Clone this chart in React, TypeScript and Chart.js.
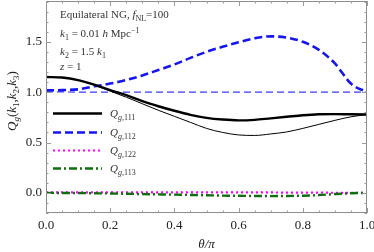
import React, { useEffect, useRef } from "react";
import { Chart, registerables } from "chart.js";

Chart.register(...registerables);

const theta = [0, 0.05, 0.1, 0.15, 0.2, 0.25, 0.3, 0.35, 0.4, 0.45, 0.5, 0.55, 0.6, 0.65, 0.7, 0.75, 0.8, 0.85, 0.9, 0.95, 1.0];

const q111Thick = [1.15, 1.145, 1.12, 1.075, 1.02, 0.97, 0.91, 0.86, 0.815, 0.775, 0.745, 0.728, 0.72, 0.725, 0.74, 0.755, 0.77, 0.78, 0.782, 0.78, 0.778];
const q111Thin = [1.15, 1.145, 1.12, 1.07, 1.01, 0.95, 0.885, 0.82, 0.76, 0.70, 0.64, 0.6, 0.575, 0.57, 0.585, 0.605, 0.64, 0.68, 0.72, 0.755, 0.778];
const q112Thick = [1.018, 1.02, 1.028, 1.058, 1.085, 1.12, 1.165, 1.22, 1.275, 1.34, 1.4, 1.45, 1.495, 1.535, 1.554, 1.542, 1.5, 1.42, 1.285, 1.085, 1.0];
const q112Thin = [1.004, 1.002, 1.001, 1.0, 1.0, 1.0, 1.0, 1.0, 1.0, 1.0, 1.0, 1.0, 1.0, 1.0, 1.0, 1.0, 1.0, 1.0, 1.0, 1.0, 1.0];
const q122 = [0.005, 0.005, 0.005, 0.005, 0.004, 0.004, 0.004, 0.004, 0.004, 0.004, 0.004, 0.004, 0.004, 0.004, 0.004, 0.003, 0.003, 0.002, 0.001, 0.0, 0.0];
const q113 = [0.0, -0.001, -0.002, -0.004, -0.006, -0.009, -0.012, -0.015, -0.018, -0.021, -0.024, -0.027, -0.029, -0.031, -0.032, -0.031, -0.028, -0.022, -0.012, -0.004, 0.0];

const xMajorTicks = [0, 0.2, 0.4, 0.6, 0.8, 1.0];
const xTickLabels = ["0.0", "0.2", "0.4", "0.6", "0.8", "1.0"];
const yMajorTicks = [0, 0.5, 1.0, 1.5];
const yTickLabels = ["0.0", "0.5", "1.0", "1.5"];

const SERIF = "'Liberation Serif', 'DejaVu Serif', serif";

type Run = { t: string; i?: boolean; s?: "sub" | "sup" };

function runFont(r: Run, size: number) {
  const sz = r.s ? Math.round(size * 0.7) : size;
  return `${r.i ? "italic " : ""}${sz}px ${SERIF}`;
}

function measureRuns(ctx: CanvasRenderingContext2D, runs: Run[], size: number) {
  let w = 0;
  for (const r of runs) {
    ctx.font = runFont(r, size);
    w += ctx.measureText(r.t).width;
  }
  return w;
}

function drawRuns(ctx: CanvasRenderingContext2D, runs: Run[], x: number, y: number, size: number, color: string) {
  ctx.fillStyle = color;
  ctx.textBaseline = "alphabetic";
  ctx.textAlign = "left";
  let cx = x;
  for (const r of runs) {
    ctx.font = runFont(r, size);
    const dy = r.s === "sub" ? size * 0.25 : r.s === "sup" ? -size * 0.38 : 0;
    ctx.fillText(r.t, cx, y + dy);
    cx += ctx.measureText(r.t).width;
  }
  return cx - x;
}

const legendItems = [
  { label: "111", ds: 0 },
  { label: "112", ds: 2 },
  { label: "122", ds: 5 },
  { label: "113", ds: 4 },
];

const overlayPlugin = {
  id: "overlay",
  afterDraw(chart: any) {
    const ctx: CanvasRenderingContext2D = chart.ctx;
    const { left, right, top, bottom } = chart.chartArea;
    const xs = chart.scales.x;
    const ys = chart.scales.y;
    ctx.save();
    // frame
    ctx.strokeStyle = "#8c8c8c";
    ctx.lineWidth = 1;
    ctx.setLineDash([]);
    ctx.strokeRect(Math.round(left) + 0.5, Math.round(top) + 0.5, Math.round(right - left) - 1, Math.round(bottom - top) - 1);
    // x ticks
    ctx.strokeStyle = "#9a9a9a";
    for (let k = 0; k <= 20; k++) {
      const v = k * 0.05;
      const px = Math.round(xs.getPixelForValue(v)) + 0.5;
      const len = k % 4 === 0 ? 5 : 2.5;
      ctx.beginPath();
      ctx.moveTo(px, bottom);
      ctx.lineTo(px, bottom - len);
      ctx.moveTo(px, top);
      ctx.lineTo(px, top + len);
      ctx.stroke();
    }
    for (let k = -2; k <= 19; k++) {
      const v = k * 0.1;
      const py = Math.round(ys.getPixelForValue(v)) + 0.5;
      const len = k % 5 === 0 ? 5 : 2.5;
      ctx.beginPath();
      ctx.moveTo(left, py);
      ctx.lineTo(left + len, py);
      ctx.moveTo(right, py);
      ctx.lineTo(right - len, py);
      ctx.stroke();
    }
    // tick labels
    ctx.fillStyle = "#222";
    ctx.font = `13px ${SERIF}`;
    ctx.textAlign = "center";
    ctx.textBaseline = "alphabetic";
    xMajorTicks.forEach((v, i) => {
      ctx.fillText(xTickLabels[i], xs.getPixelForValue(v), bottom + 16);
    });
    ctx.textAlign = "right";
    ctx.textBaseline = "middle";
    yMajorTicks.forEach((v, i) => {
      ctx.fillText(yTickLabels[i], left - 4, ys.getPixelForValue(v));
    });
    // x title
    const xt: Run[] = [{ t: "θ/π", i: true }];
    const xw = measureRuns(ctx, xt, 13);
    drawRuns(ctx, xt, (left + right) / 2 - xw / 2, 248, 13, "#222");
    // y title
    const yt: Run[] = [
      { t: "Q", i: true }, { t: "g", i: true, s: "sub" }, { t: "(" },
      { t: "k", i: true }, { t: "1", s: "sub" }, { t: "," },
      { t: "k", i: true }, { t: "2", s: "sub" }, { t: "," },
      { t: "k", i: true }, { t: "3", s: "sub" }, { t: ")" },
    ];
    const yw = measureRuns(ctx, yt, 13);
    ctx.save();
    ctx.translate(16, 101);
    ctx.rotate(-Math.PI / 2);
    drawRuns(ctx, yt, -yw / 2, 0, 13, "#222");
    ctx.restore();
    // annotations
    const ax = 60;
    drawRuns(ctx, [{ t: "Equilateral NG, " }, { t: "f", i: true }, { t: "NL", s: "sub" }, { t: "=100" }], ax, 18, 11, "#333");
    drawRuns(ctx, [{ t: "k", i: true }, { t: "1", s: "sub" }, { t: " = 0.01 " }, { t: "h", i: true }, { t: " Mpc" }, { t: "−1", s: "sup" }], ax, 37, 11, "#333");
    drawRuns(ctx, [{ t: "k", i: true }, { t: "2", s: "sub" }, { t: " = 1.5 " }, { t: "k", i: true }, { t: "1", s: "sub" }], ax, 55, 11, "#333");
    drawRuns(ctx, [{ t: "z", i: true }, { t: " = 1" }], ax, 70, 11, "#333");
    // legend
    const rows = [113, 132, 150, 168];
    legendItems.forEach((it, idx) => {
      const ds = chart.data.datasets[it.ds];
      const y = rows[idx] + 0.5;
      ctx.save();
      ctx.strokeStyle = ds.borderColor;
      ctx.lineWidth = ds.borderWidth;
      ctx.setLineDash(ds.borderDash || []);
      ctx.beginPath();
      ctx.moveTo(53, y);
      ctx.lineTo(102, y);
      ctx.stroke();
      ctx.restore();
      drawRuns(ctx, [{ t: "Q", i: true }, { t: "g,", i: true, s: "sub" }, { t: it.label, s: "sub" }], 110, rows[idx] + 4, 11, "#333");
    });
    ctx.restore();
  },
};

export default function App() {
  const ref = useRef<HTMLCanvasElement | null>(null);
  useEffect(() => {
    document.body.style.margin = "0";
    const mk = (d: number[]) => d.map((v, i) => ({ x: theta[i], y: v }));
    const base = { pointRadius: 0, fill: false, cubicInterpolationMode: "monotone" as const, tension: 0.4 };
    const chart = new Chart(ref.current as HTMLCanvasElement, {
      type: "line",
      data: {
        datasets: [
          { ...base, label: "Q111", data: mk(q111Thick), borderColor: "#000000", borderWidth: 2.4 },
          { ...base, label: "Q111 thin", data: mk(q111Thin), borderColor: "#000000", borderWidth: 1 },
          { ...base, label: "Q112", data: mk(q112Thick), borderColor: "#1515ee", borderWidth: 2.6, borderDash: [8, 4] },
          { ...base, label: "Q112 thin", data: mk(q112Thin), borderColor: "#3b3bff", borderWidth: 1.2, borderDash: [7, 4] },
          { ...base, label: "Q113", data: mk(q113), borderColor: "#0f6e0f", borderWidth: 2.4, borderDash: [8, 3, 2, 3] },
          { ...base, label: "Q122", data: mk(q122), borderColor: "#ff00ff", borderWidth: 2.2, borderDash: [2, 3] },
        ],
      },
      options: {
        animation: false,
        responsive: false,
        layout: { padding: { left: 46, right: 7, top: 1, bottom: 39 } },
        plugins: { legend: { display: false }, tooltip: { enabled: false } },
        scales: {
          x: { type: "linear", min: 0, max: 1, display: false },
          y: { type: "linear", min: -0.2, max: 1.905, display: false },
        },
      },
      plugins: [overlayPlugin],
    });
    return () => chart.destroy();
  }, []);
  return (
    <div style={{ position: "absolute", left: 0, top: 0, width: 374, height: 252, background: "#fff" }}>
      <canvas ref={ref} width={374} height={252} />
    </div>
  );
}
